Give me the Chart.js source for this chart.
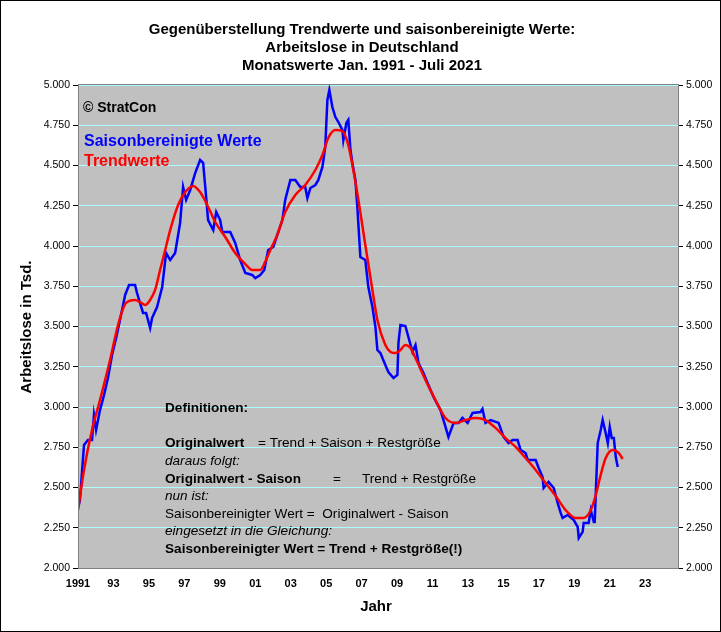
<!DOCTYPE html>
<html><head><meta charset="utf-8">
<script src="https://cdn.jsdelivr.net/npm/chart.js@4"></script>
<style>html,body{margin:0;padding:0;background:#fff}#w{width:721px;height:632px}</style>
</head><body><div id="w"><canvas id="c"></canvas></div>
<script>
const titleLines=["Gegenüberstellung Trendwerte und saisonbereinigte Werte:","Arbeitslose in Deutschland","Monatswerte Jan. 1991 - Juli 2021"];
const blueYears=[1991.00,1991.11,1991.34,1991.56,1991.79,1991.90,1992.02,1992.24,1992.47,1992.69,1992.92,1993.15,1993.37,1993.66,1993.88,1994.22,1994.33,1994.67,1994.84,1995.07,1995.18,1995.46,1995.75,1995.97,1996.20,1996.48,1996.76,1996.93,1997.10,1997.33,1997.61,1997.89,1998.06,1998.18,1998.34,1998.63,1998.80,1999.02,1999.14,1999.59,1999.87,2000.15,2000.44,2000.83,2001.00,2001.28,2001.51,2001.73,2002.02,2002.24,2002.53,2002.69,2002.98,2003.26,2003.54,2003.82,2003.94,2004.11,2004.39,2004.56,2004.79,2004.95,2005.07,2005.18,2005.35,2005.52,2005.69,2005.92,2005.97,2006.14,2006.25,2006.37,2006.48,2006.65,2006.76,2006.93,2007.21,2007.38,2007.61,2007.78,2007.89,2008.06,2008.34,2008.51,2008.80,2009.02,2009.08,2009.19,2009.47,2009.64,2009.87,2010.04,2010.21,2010.49,2010.72,2011.06,2011.45,2011.62,2011.90,2012.19,2012.47,2012.69,2012.98,2013.26,2013.71,2013.82,2013.99,2014.28,2014.73,2015.01,2015.29,2015.52,2015.80,2015.97,2016.25,2016.37,2016.82,2016.99,2017.21,2017.27,2017.55,2017.84,2018.06,2018.23,2018.34,2018.63,2018.97,2019.19,2019.25,2019.47,2019.53,2019.81,2019.93,2020.10,2020.15,2020.32,2020.49,2020.60,2020.77,2020.89,2021.00,2021.11,2021.23,2021.34,2021.45];
const blueValues=[2373,2422,2764,2795,2795,2950,2857,2981,3075,3180,3323,3429,3540,3696,3758,3758,3708,3584,3584,3491,3553,3621,3745,3957,3913,3957,4143,4366,4286,4348,4453,4534,4516,4366,4161,4099,4211,4161,4087,4087,4019,3913,3832,3820,3801,3820,3851,3975,3994,4068,4161,4286,4410,4410,4366,4366,4298,4360,4379,4410,4491,4615,4907,4969,4863,4801,4770,4720,4658,4764,4783,4596,4516,4410,4242,3932,3913,3745,3621,3497,3354,3335,3261,3217,3180,3199,3398,3509,3503,3435,3342,3385,3273,3211,3149,3062,2981,2919,2814,2901,2901,2932,2901,2963,2969,2988,2901,2919,2901,2814,2776,2795,2795,2733,2714,2671,2671,2621,2565,2497,2534,2497,2404,2342,2311,2329,2298,2255,2186,2224,2280,2280,2360,2286,2286,2776,2857,2919,2839,2776,2876,2807,2807,2689,2627];
const trendYears=[1991.00,1991.34,1991.79,1992.24,1992.81,1993.26,1993.71,1994.22,1994.50,1994.79,1995.07,1995.35,1995.63,1995.92,1996.20,1996.65,1997.05,1997.50,1997.89,1998.29,1998.74,1999.31,1999.87,2000.44,2000.83,2001.28,2001.56,2001.85,2002.24,2002.69,2003.26,2003.82,2004.39,2004.79,2005.12,2005.52,2005.92,2006.25,2006.48,2006.82,2007.21,2007.61,2007.89,2008.34,2008.63,2008.91,2009.19,2009.47,2009.76,2010.04,2010.60,2011.17,2011.73,2012.30,2012.86,2013.43,2013.99,2014.56,2015.12,2015.69,2016.25,2016.82,2017.38,2017.95,2018.51,2019.08,2019.53,2019.93,2020.21,2020.49,2020.77,2021.17,2021.51,2021.73];
const trendValues=[2360,2609,2857,3043,3292,3509,3646,3665,3652,3634,3665,3727,3851,3975,4099,4255,4335,4373,4335,4255,4149,4056,3957,3888,3851,3851,3901,3975,4068,4211,4317,4379,4472,4565,4671,4720,4714,4627,4503,4286,4006,3727,3540,3385,3342,3335,3354,3385,3366,3304,3168,3043,2932,2901,2919,2932,2919,2870,2807,2752,2683,2609,2528,2447,2360,2311,2311,2360,2453,2578,2683,2733,2714,2677];
const xTickYears=[1991,1992,1993,1994,1995,1996,1997,1998,1999,2000,2001,2002,2003,2004,2005,2006,2007,2008,2009,2010,2011,2012,2013,2014,2015,2016,2017,2018,2019,2020,2021,2022,2023,2024];

const F='"Liberation Sans", Arial, sans-serif';
const fmt=v=>{const s=String(Math.round(v));return s.slice(0,-3)+'.'+s.slice(-3);};
const xlab=v=>v===1991?'1991':(v%2===1?String(v%100).padStart(2,'0'):'');

const deco={id:'deco',
 beforeDraw(ch){const {ctx,chartArea:a}=ch;ctx.save();ctx.fillStyle='#c0c0c0';ctx.fillRect(a.left,a.top,a.right-a.left,a.bottom-a.top);ctx.restore();},
 afterDraw(ch){const {ctx,chartArea:a}=ch;ctx.save();
  ctx.strokeStyle='#808080';ctx.lineWidth=1;ctx.strokeRect(a.left+0.5,a.top-0.5,a.right-a.left,a.bottom-a.top+1);
  ctx.strokeStyle='#000';ctx.strokeRect(0.5,0.5,720,631);
  ctx.fillStyle='#000';ctx.textAlign='center';ctx.textBaseline='middle';ctx.font='bold 15px '+F;
  titleLines.forEach((t,i)=>ctx.fillText(t,362,30+i*18));
  ctx.fillText('Jahr',376,607);
  ctx.save();ctx.translate(27,327);ctx.rotate(-Math.PI/2);ctx.fillText('Arbeitslose in Tsd.',0,0);ctx.restore();
  ctx.textAlign='left';
  ctx.font='bold 14px '+F;ctx.fillText('© StratCon',83,108);
  ctx.font='bold 16px '+F;ctx.fillStyle='#0000ff';ctx.fillText('Saisonbereinigte Werte',84,142);
  ctx.fillStyle='#ff0000';ctx.fillText('Trendwerte',84,162);
  ctx.fillStyle='#000';
  const B='bold 13.6px '+F,N='13.6px '+F,I='italic 13.6px '+F;
  ctx.font=B;ctx.fillText('Definitionen:',165,408);
  ctx.fillText('Originalwert',165,443);ctx.font=N;ctx.fillText('= Trend + Saison + Restgröße',258,443);
  ctx.font=I;ctx.fillText('daraus folgt:',165,461);
  ctx.font=B;ctx.fillText('Originalwert - Saison',165,479);ctx.font=N;ctx.fillText('=',333,479);ctx.fillText('Trend + Restgröße',362,479);
  ctx.font=I;ctx.fillText('nun ist:',165,496);
  ctx.font=N;ctx.fillText('Saisonbereinigter Wert =  Originalwert - Saison',165,514);
  ctx.font=I;ctx.fillText('eingesetzt in die Gleichung:',165,531);
  ctx.font=B;ctx.fillText('Saisonbereinigter Wert = Trend + Restgröße(!)',165,549);
  ctx.restore();}
};

new Chart(document.getElementById('c'),{type:'line',
 data:{datasets:[
  {data:trendYears.map((x,i)=>({x,y:trendValues[i]})),borderColor:'#ff0000',borderWidth:2.5,pointRadius:0,cubicInterpolationMode:'monotone'},
  {data:blueYears.map((x,i)=>({x,y:blueValues[i]})),borderColor:'#0000ff',borderWidth:2.5,pointRadius:0,tension:0}
 ]},
 options:{responsive:true,maintainAspectRatio:false,animation:false,events:[],
  layout:{padding:{top:85,left:0,right:0,bottom:0}},
  plugins:{legend:{display:false},tooltip:{enabled:false}},
  scales:{
   x:{type:'linear',min:1991,max:2024.85,
     afterBuildTicks:s=>{s.ticks=xTickYears.map(v=>({value:v}));},
     afterFit:s=>{s.height=64;},
     grid:{display:false,drawOnChartArea:false,drawTicks:true,tickLength:5,color:'#000'},
     border:{color:'#000'},
     ticks:{autoSkip:false,maxRotation:0,color:'#000',font:{family:F,size:11,weight:'bold'},callback:v=>xlab(v),padding:4}},
   y:{position:'left',min:2000,max:5000,
     afterBuildTicks:s=>{const t=[];for(let v=2000;v<=5000;v+=250)t.push({value:v});s.ticks=t;},
     afterFit:s=>{s.width=78;},
     grid:{color:'#aaffff',lineWidth:1,tickLength:5,tickColor:'#000'},border:{color:'#000'},
     ticks:{color:'#000',font:{family:F,size:10.5},callback:v=>fmt(v),padding:3}},
   y2:{position:'right',min:2000,max:5000,
     afterBuildTicks:s=>{const t=[];for(let v=2000;v<=5000;v+=250)t.push({value:v});s.ticks=t;},
     afterFit:s=>{s.width=43;},
     grid:{drawOnChartArea:false,tickLength:5,color:'#000'},border:{color:'#000'},
     ticks:{color:'#000',font:{family:F,size:10.5},callback:v=>fmt(v),padding:3}}
  }},
 plugins:[deco]});
</script></body></html>
